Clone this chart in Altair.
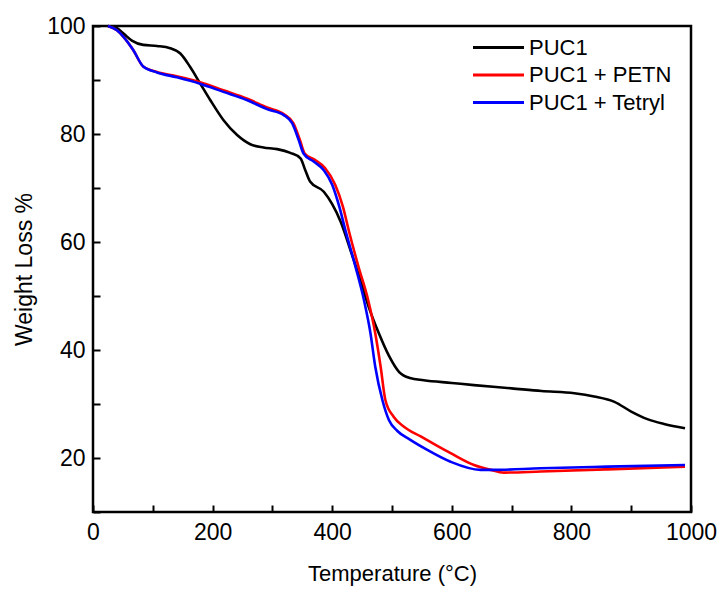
import altair as alt
import pandas as pd

# PUC1
t_puc1 = [25, 40, 51, 65, 84, 107, 129, 146, 162, 179, 196, 218, 241, 263, 285, 308, 330, 347, 355, 363,
          386, 400, 414, 432, 447, 461, 478, 495, 512, 530, 553, 600, 637, 700, 750, 805, 838, 872, 900, 927, 955, 990]
w_puc1 = [100, 99.6, 98.6, 97.3, 96.5, 96.3, 95.9, 94.9, 92.5, 89.4, 86.3, 82.6, 79.8, 78.1, 77.5, 77.2, 76.5, 75.5, 73.3, 71.2,
          69.3, 67.0, 63.8, 58.0, 53.0, 48.0, 43.1, 38.9, 35.9, 34.8, 34.4, 33.9, 33.5, 32.9, 32.4, 32.0, 31.4, 30.4, 28.6, 27.2, 26.3, 25.5]

# PUC1 + PETN
t_petn = [25, 40, 51, 67, 84, 107, 140, 179, 218, 257, 291, 319, 335, 346, 354, 371, 388, 405, 418, 428, 444,
          460, 472, 481, 489, 503, 520, 548, 575, 598, 637, 665, 687, 749, 860, 990]
w_petn = [100, 99.2, 98.0, 95.6, 92.5, 91.5, 90.7, 89.6, 88.1, 86.6, 84.9, 83.7, 82.0, 78.9, 76.4, 75.2, 73.7, 70.6, 66.5, 62.0, 55.4,
          49.3, 43.1, 36.9, 30.7, 27.6, 25.8, 24.0, 22.3, 20.9, 18.7, 17.8, 17.3, 17.5, 17.9, 18.4]

# PUC1 + Tetryl
t_tetryl = [25, 40, 51, 67, 84, 107, 140, 179, 218, 257, 291, 319, 333, 344, 352, 369, 386, 400, 412, 422, 439,
            453, 464, 472, 484, 495, 509, 530, 559, 598, 648, 671, 749, 860, 990]
w_tetryl = [100, 99.2, 98.0, 95.6, 92.5, 91.4, 90.5, 89.3, 87.8, 86.3, 84.6, 83.5, 82.0, 78.9, 76.4, 74.9, 73.3, 70.6, 66.5, 62.2, 55.4,
            49.3, 43.1, 36.9, 30.7, 27.0, 25.0, 23.4, 21.5, 19.3, 17.8, 17.8, 18.1, 18.4, 18.7]

series_names = ["PUC1", "PUC1 + PETN", "PUC1 + Tetryl"]
series_colors = ["#000000", "#ff0000", "#0000ff"]

x_ticks = list(range(0, 1001, 100))
y_ticks = list(range(10, 101, 10))

rows = []
for name, ts, ws in [(series_names[0], t_puc1, w_puc1),
                     (series_names[1], t_petn, w_petn),
                     (series_names[2], t_tetryl, w_tetryl)]:
    for i, (t, w) in enumerate(zip(ts, ws)):
        rows.append({"series": name, "T": t, "W": w, "i": i})
df = pd.DataFrame(rows)

FONT = "Liberation Sans"

chart = alt.Chart(df).mark_line(strokeWidth=2.6, interpolate="monotone").encode(
    x=alt.X("T:Q",
            scale=alt.Scale(domain=[0, 1000], nice=False, zero=False),
            axis=alt.Axis(values=x_ticks, title="Temperature (°C)", format="d",
                          labelExpr="datum.value % 200 == 0 ? datum.label : ''",
                          offset=-7, tickSize=7, tickWidth=2, tickColor="black",
                          domain=False, grid=False, labelPadding=9, labelFlush=False,
                          labelOverlap=False,
                          labelFontSize=23, labelFont=FONT, labelColor="black",
                          titleFontSize=22, titleFont=FONT, titleFontWeight="normal",
                          titleColor="black", titlePadding=19)),
    y=alt.Y("W:Q",
            scale=alt.Scale(domain=[10, 100], nice=False, zero=False),
            axis=alt.Axis(values=y_ticks, title="Weight Loss %", format="d",
                          labelExpr="(datum.value % 20 == 0 && datum.value > 10) ? datum.label : ''",
                          offset=-7, tickSize=7, tickWidth=2, tickColor="black",
                          domain=False, grid=False, labelPadding=8, labelFlush=False,
                          labelOverlap=False,
                          labelFontSize=23, labelFont=FONT, labelColor="black",
                          titleFontSize=23, titleFont=FONT, titleFontWeight="normal",
                          titleColor="black", titlePadding=10)),
    color=alt.Color("series:N",
                    scale=alt.Scale(domain=series_names, range=series_colors),
                    legend=alt.Legend(title=None, orient="none", legendX=391, legendY=7,
                                      symbolType="M-2,0H2", symbolStrokeWidth=3, symbolSize=650,
                                      labelFontSize=22, labelFont=FONT, labelColor="black",
                                      labelOffset=16, rowPadding=1.5, padding=0)),
    order=alt.Order("i:Q"),
    detail="series:N",
).properties(
    width=598, height=486,
    background="white",
    padding={"left": 93, "top": 26, "right": 30, "bottom": 77},
    autosize=alt.AutoSizeParams(type="none"),
).configure_view(
    stroke="black", strokeWidth=2.5
)

chart.save("out.html", embed_options={"renderer": "svg", "actions": False})
